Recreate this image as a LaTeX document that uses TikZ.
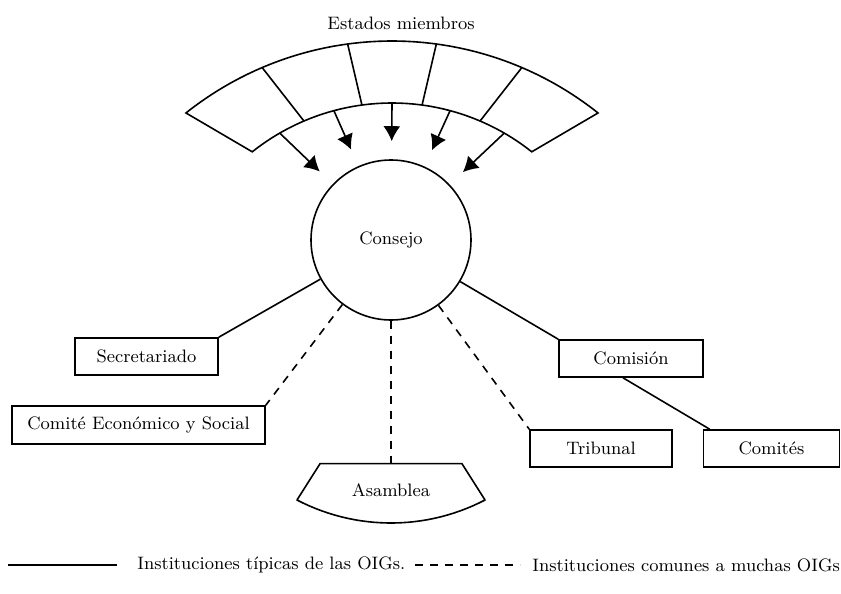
\documentclass[tikz,border=0pt]{standalone}
\usepackage{tikz}
\usetikzlibrary{arrows.meta,positioning}
\tikzstyle{inst} = [rectangle, draw, line width=0.8pt, minimum height=18.5pt, inner sep=2pt, text centered, font=\small]
\tikzstyle{link} = [line width=0.8pt]
\tikzstyle{common} = [line width=0.8pt, dash pattern=on 4pt off 3.5pt]
\tikzstyle{arrow} = [line width=0.8pt, -{Latex[length=7.5pt,width=8.5pt]}, shorten >=9pt]

\begin{document}
\begin{tikzpicture}[x=0.5pt, y=-0.5pt, font=\small]
\useasboundingbox (0,0) rectangle (841,594);

% Band of member states
\draw[link] plot[domain=51.5:128.5, samples=50] ({392+331*cos(\x)}, {372-331*sin(\x)})
  -- plot[domain=128.5:51.5, samples=50] ({392+224.5*cos(\x)}, {327.5-224.5*sin(\x)}) -- cycle;
\foreach \a in {66.9,82.3,97.7,113.1}
  \draw[link] ({392+331*cos(\a)}, {372-331*sin(\a)}) -- ({392+224.5*cos(\a)}, {327.5-224.5*sin(\a)});
\foreach \a [count=\i] in {120,105,90,75,60}
  \coordinate (m\i) at ({392+224.5*cos(\a)}, {327.5-224.5*sin(\a)});
\node (estados) at (401,23) {Estados miembros};

% Central council
\node[circle, draw, line width=0.8pt, minimum size=80pt, inner sep=0pt] (consejo) at (391,240) {Consejo};
\foreach \i in {1,...,5}
  \draw[arrow] (m\i) -- (consejo);

% Institutions
\node[inst, minimum width=71.5pt] (secretariado) at (146.5,356.5) {Secretariado};
\node[inst, minimum width=126.5pt, minimum height=19pt] (ces) at (138.5,425) {Comité Económico y Social};
\node[inst, minimum width=72pt] (comision) at (631,358.5) {Comisión};
\node[inst, minimum width=71pt] (tribunal) at (601,448.5) {Tribunal};
\node[inst, minimum width=68pt] (comites) at (771.5,448.5) {Comités};
\node[minimum width=70.5pt, minimum height=26pt, inner sep=0pt] (asamblea) at (391,490) {Asamblea};
\draw[link, line join=round] (asamblea.north west) -- (asamblea.north east)
  -- plot[domain=27.5:-27.5, samples=30] ({391+203.6*sin(\x)}, {319.4+203.6*cos(\x)}) -- cycle;

% Connections
\draw[link] (consejo.209) -- (secretariado.north east);
\draw[common] (consejo.233) -- (ces.north east);
\draw[common] (consejo.south) -- (asamblea.north);
\draw[link] (consejo.329) -- (comision.north west);
\draw[common] (consejo.306) -- (tribunal.north west);
\draw[link] ([xshift=-4pt]comision.south) -- ([xshift=3.5pt]comites.north west);

% Legend
\coordinate (ta) at (8,565);
\coordinate (tb) at (117,565);
\node[anchor=west, inner sep=0pt] (tipicas) at (137,565) {Instituciones típicas de las OIGs.};
\coordinate (ca) at (415,565);
\coordinate (cb) at (520,565);
\node[anchor=west, inner sep=0pt] (comunes) at (532,565) {Instituciones comunes a muchas OIGs};
\draw[link] (ta) -- (tb);
\draw[common] (ca) -- (cb);
\end{tikzpicture}
\end{document}
